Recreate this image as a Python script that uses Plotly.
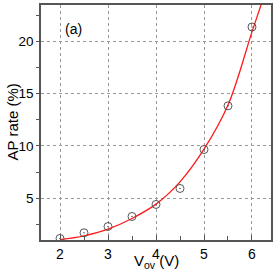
import plotly.graph_objects as go

# measured AP rate points
v_ov = [2.0, 2.5, 3.0, 3.5, 4.0, 4.5, 5.0, 5.5, 6.0]
ap_rate = [1.15, 1.69, 2.29, 3.25, 4.40, 5.93, 9.65, 13.83, 21.37]

# fitted curve
fit_x = [2.0, 2.5, 3.0, 3.5, 4.0, 4.5, 5.0, 5.5, 6.0, 6.19]
fit_y = [1.03, 1.40, 2.04, 3.06, 4.43, 6.56, 9.68, 13.9, 20.9, 23.5]

x_ticks = [2, 3, 4, 5, 6]
y_ticks = [5, 10, 15, 20]

fig = go.Figure()
fig.add_trace(go.Scatter(x=fit_x, y=fit_y, mode="lines",
                         line=dict(color="#ff1a1a", width=1.3, shape="spline", smoothing=1.0),
                         hoverinfo="skip", cliponaxis=True))
fig.add_trace(go.Scatter(x=v_ov, y=ap_rate, mode="markers",
                         marker=dict(symbol="circle-open-dot", size=8,
                                     color="#555555", line=dict(width=1, color="#555555"))))

font = "Liberation Sans, Arial, sans-serif"
fig.update_layout(
    width=273, height=273,
    margin=dict(l=41, r=2, t=5, b=33, autoexpand=False),
    paper_bgcolor="white", plot_bgcolor="white",
    showlegend=False,
    font=dict(family=font, size=13, color="black"),
    annotations=[
        dict(x=2.28, y=21.2, xref="x", yref="y", text="(a)", showarrow=False,
             font=dict(family=font, size=14, color="black")),
        dict(x=0.5, y=0, xref="paper", yref="paper", text="V<sub>ov</sub> (V)",
             showarrow=False, yanchor="middle", xanchor="center", yshift=-21,
             font=dict(family=font, size=15, color="black")),
        dict(x=0, y=0.5, xref="paper", yref="paper", text="AP rate (%)", textangle=-90,
             showarrow=False, yanchor="middle", xanchor="center", xshift=-29,
             font=dict(family=font, size=15, color="black")),
    ],
)
fig.update_xaxes(range=[1.604, 6.396], tickvals=x_ticks, ticks="inside", ticklen=5,
                 tickcolor="#555555", showline=True, linecolor="#555555", linewidth=1.5,
                 mirror=True, showgrid=True, gridcolor="#999999", griddash="dot", gridwidth=1,
                 zeroline=False, tickfont=dict(size=14), automargin=False,
                 minor=dict(tickvals=[2.5, 3.5, 4.5, 5.5], ticks="inside", ticklen=4,
                            tickcolor="#555555", showgrid=False))
fig.update_yaxes(range=[1.0, 23.47], tickvals=y_ticks, ticks="outside", ticklen=3,
                 tickcolor="#555555", showline=True, linecolor="#555555", linewidth=1.5,
                 mirror=True, showgrid=True, gridcolor="#999999", griddash="dot", gridwidth=1,
                 zeroline=False, tickfont=dict(size=13.5), automargin=False,
                 minor=dict(tickvals=[2.5, 7.5, 12.5, 17.5, 22.5], ticks="outside", ticklen=3,
                            tickcolor="#555555", showgrid=False))

fig.write_html("out.html", config={"displayModeBar": False},
               post_script="document.body.style.margin='0';")
